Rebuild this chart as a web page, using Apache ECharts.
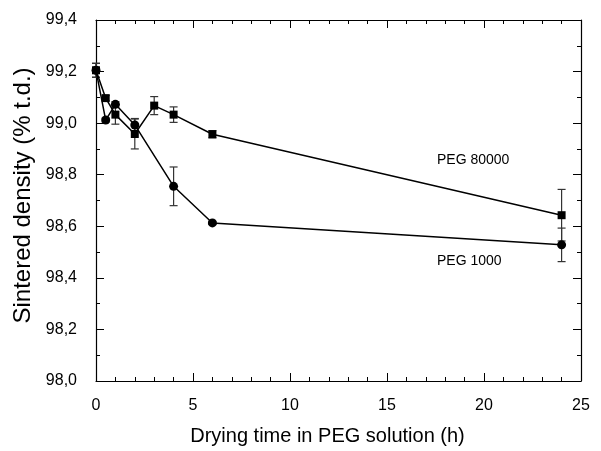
<!DOCTYPE html>
<html>
<head>
<meta charset="utf-8">
<script src="https://cdn.jsdelivr.net/npm/echarts@6/dist/echarts.min.js"></script>
<style>html,body{margin:0;padding:0;background:#fff}#c{width:601px;height:451px}</style>
</head>
<body>
<div id="c"></div>
<script>
// PEG 1000 (circles)
var timesA = [0, 0.5, 1, 2, 4, 6, 24];
var densA  = [99.205, 99.012, 99.073, 98.993, 98.755, 98.613, 98.528];
var errA   = [0.027, 0.008, 0.010, 0.025, 0.075, 0.006, 0.065];
// PEG 80000 (squares)
var timesB = [0, 0.5, 1, 2, 3, 4, 6, 24];
var densB  = [99.205, 99.097, 99.033, 98.958, 99.068, 99.033, 98.957, 98.643];
var errB   = [0.027, 0.010, 0.037, 0.058, 0.035, 0.030, 0.014, 0.100];

var labelA = 'PEG 1000';
var labelB = 'PEG 80000';
var xTitle = 'Drying time in PEG solution (h)';
var yTitle = 'Sintered density (% t.d.)';

var FONT = 'Liberation Sans, Arial, sans-serif';

function pts(xs, ys){ return xs.map(function(x,i){ return [x, ys[i]]; }); }
function errs(xs, ys, es){ return xs.map(function(x,i){ return [x, ys[i]-es[i], ys[i]+es[i]]; }); }

function errRender(params, api){
  var x = api.value(0);
  var lo = api.coord([x, api.value(1)]);
  var hi = api.coord([x, api.value(2)]);
  var w = 4;
  var st = {stroke:'#333', lineWidth:1.2};
  return {type:'group', children:[
    {type:'line', shape:{x1:lo[0],y1:lo[1],x2:hi[0],y2:hi[1]}, style:st},
    {type:'line', shape:{x1:lo[0]-w,y1:lo[1],x2:lo[0]+w,y2:lo[1]}, style:st},
    {type:'line', shape:{x1:hi[0]-w,y1:hi[1],x2:hi[0]+w,y2:hi[1]}, style:st}
  ]};
}

var axLine = {show:true, onZero:false, lineStyle:{color:'#000', width:1.2}};
function xAx(pos, showLabel){
  return {type:'value', position:pos, min:0, max:25, interval:5,
    axisLine:axLine,
    axisTick:{show:true, inside:true, length:8, lineStyle:{color:'#000', width:1}},
    minorTick:{show:true, splitNumber:5, length:4, lineStyle:{color:'#000', width:1}},
    splitLine:{show:false},
    axisLabel:{show:showLabel, inside:false, margin:17, fontSize:16, color:'#000', fontFamily:FONT},
    name: showLabel ? xTitle : '', nameLocation:'middle', nameGap:45,
    nameTextStyle:{fontSize:20, color:'#000', fontFamily:FONT, padding:[0,22,0,0]}
  };
}
function yAx(pos, showLabel){
  return {type:'value', position:pos, min:98.0, max:99.4, interval:0.2,
    axisLine:axLine,
    axisTick:{show:true, inside:true, length:8, lineStyle:{color:'#000', width:1}},
    minorTick:{show:true, splitNumber:2, length:4, lineStyle:{color:'#000', width:1}},
    splitLine:{show:false},
    axisLabel:{show:showLabel, margin:19, fontSize:16, color:'#000', fontFamily:FONT,
      formatter:function(v){ return v.toFixed(1).replace('.', ','); }},
    name: showLabel ? yTitle : '', nameLocation:'middle', nameGap:59,
    nameTextStyle:{fontSize:24, color:'#000', fontFamily:FONT, padding:[0,0,0,10]}
  };
}

var chart = echarts.init(document.getElementById('c'), null, {renderer:'canvas'});
chart.setOption({
  backgroundColor:'#fff',
  animation:false,
  grid:{left:96, right:20, top:20, bottom:66},
  xAxis:[xAx('bottom', true), xAx('top', false)],
  yAxis:[yAx('left', true), yAx('right', false)],
  series:[
    {type:'custom', renderItem:errRender, data:errs(timesA, densA, errA), z:1, encode:{x:0, y:[1,2]}},
    {type:'custom', renderItem:errRender, data:errs(timesB, densB, errB), z:1, encode:{x:0, y:[1,2]}},
    {type:'line', name:labelB, data:pts(timesB, densB), symbol:'rect', symbolSize:8,
      itemStyle:{color:'#000'}, lineStyle:{color:'#000', width:1.5}, z:3},
    {type:'line', name:labelA, data:pts(timesA, densA), symbol:'circle', symbolSize:9,
      itemStyle:{color:'#000'}, lineStyle:{color:'#000', width:1.5}, z:3}
  ],
  graphic:[
    {type:'text', left:437, top:153, style:{text:labelB, fontSize:14, fill:'#000', fontFamily:FONT}},
    {type:'text', left:437, top:254, style:{text:labelA, fontSize:14, fill:'#000', fontFamily:FONT}}
  ]
});
</script>
</body>
</html>
